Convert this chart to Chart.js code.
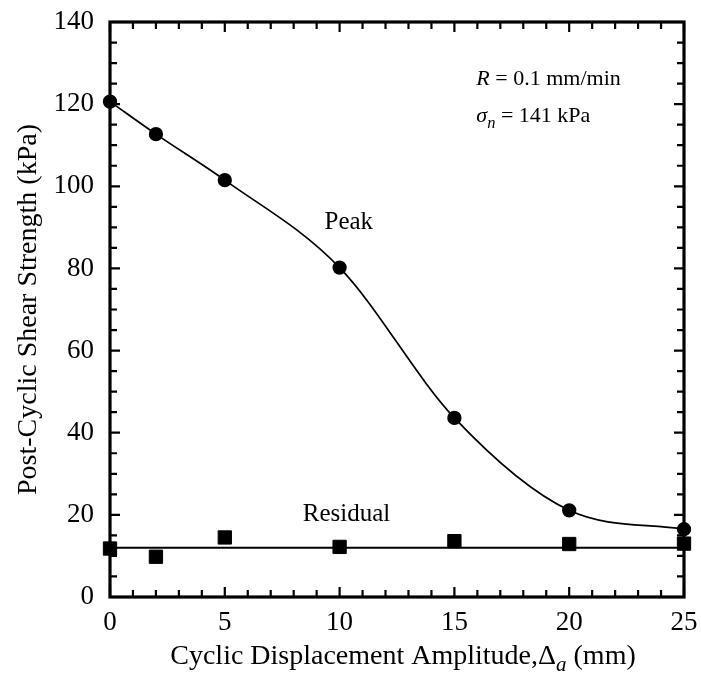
<!DOCTYPE html>
<html>
<head>
<meta charset="utf-8">
<script src="https://cdn.jsdelivr.net/npm/chart.js@4.4.0/dist/chart.umd.min.js"></script>
<style>
  html, body { margin: 0; padding: 0; background: #fff; }
  #wrap { width: 701px; height: 673px; }
</style>
</head>
<body>
<div id="wrap"><canvas id="chart"></canvas></div>
<script>
// Data
const amplitudes = [0, 2, 5, 10, 15, 20, 25];
const peakStrength = [120.6, 112.7, 101.5, 80.2, 43.6, 21.1, 16.5];
const residualStrength = [11.8, 9.8, 14.5, 12.2, 13.6, 12.9, 13.0];
const residualFitX = [0, 25];
const residualFitY = [12.0, 12.0];
const xTicks = [0, 5, 10, 15, 20, 25];
const yTicks = [0, 20, 40, 60, 80, 100, 120, 140];

const serif = "'Liberation Serif', 'Times New Roman', serif";

function toPoints(xs, ys) {
  return xs.map((x, i) => ({x: x, y: ys[i]}));
}

// draw text made of parts (italic / subscript pieces)
function drawRich(ctx, parts, x, y, size, align) {
  let widths = parts.map(p => {
    ctx.font = (p.italic ? 'italic ' : '') + (p.sub ? size * 0.75 : size) + 'px ' + serif;
    return ctx.measureText(p.t).width;
  });
  let total = widths.reduce((a, b) => a + b, 0);
  let cx = align === 'center' ? x - total / 2 : x;
  ctx.textAlign = 'left';
  ctx.textBaseline = 'alphabetic';
  parts.forEach((p, i) => {
    ctx.font = (p.italic ? 'italic ' : '') + (p.sub ? size * 0.75 : size) + 'px ' + serif;
    ctx.fillText(p.t, cx, p.sub ? y + size * 0.25 : y);
    cx += widths[i];
  });
}

// no extra room for overflowing tick labels, layout padding decides
function noOverflow(s) {
  s.paddingTop = 0; s.paddingBottom = 0; s.paddingLeft = 0; s.paddingRight = 0;
}

// frame, inside ticks on all four sides, labels and axis titles
const framePlugin = {
  id: 'frame',
  afterDatasetsDraw(chart) {
    const ctx = chart.ctx;
    const a = chart.chartArea;
    const xs = chart.scales.x, ys = chart.scales.y;
    ctx.save();
    ctx.strokeStyle = '#000';
    ctx.fillStyle = '#000';

    ctx.lineWidth = 2.2;
    for (let v = 0; v <= 25; v += 1) {
      let px = xs.getPixelForValue(v);
      let len = v % 5 === 0 ? 10 : 7;
      ctx.beginPath();
      ctx.moveTo(px, a.bottom); ctx.lineTo(px, a.bottom - len);
      ctx.moveTo(px, a.top); ctx.lineTo(px, a.top + len);
      ctx.stroke();
    }
    for (let v = 0; v <= 140; v += 5) {
      let py = ys.getPixelForValue(v);
      let len = v % 20 === 0 ? 10 : 7;
      ctx.beginPath();
      ctx.moveTo(a.left, py); ctx.lineTo(a.left + len, py);
      ctx.moveTo(a.right, py); ctx.lineTo(a.right - len, py);
      ctx.stroke();
    }

    ctx.lineWidth = 3.2;
    ctx.strokeRect(a.left, a.top, a.right - a.left, a.bottom - a.top);

    // curve labels
    ctx.font = '25px ' + serif;
    ctx.textAlign = 'center';
    ctx.textBaseline = 'alphabetic';
    ctx.fillText('Peak', xs.getPixelForValue(10.4), 229);
    ctx.fillText('Residual', xs.getPixelForValue(10.3), 521);

    // test conditions
    let tx = xs.getPixelForValue(16.0) - 1;
    drawRich(ctx, [{t: 'R', italic: true}, {t: ' = 0.1 mm/min'}], tx, 85, 22, 'left');
    drawRich(ctx, [{t: 'σ', italic: true}, {t: 'n', italic: true, sub: true}, {t: ' = 141 kPa'}], tx, 122, 22, 'left');

    // axis titles
    drawRich(ctx, [{t: 'Cyclic Displacement Amplitude,Δ'}, {t: 'a', italic: true, sub: true}, {t: ' (mm)'}],
      (a.left + a.right) / 2 + 6, 664, 28, 'center');
    ctx.translate(29, (a.top + a.bottom) / 2);
    ctx.rotate(-Math.PI / 2);
    ctx.font = '28px ' + serif;
    ctx.textAlign = 'center';
    ctx.textBaseline = 'middle';
    ctx.fillText('Post-Cyclic Shear Strength (kPa)', 0, 0);
    ctx.restore();
  }
};

const ctxEl = document.getElementById('chart');
new Chart(ctxEl, {
  type: 'scatter',
  data: {
    datasets: [
      {
        label: 'Peak',
        data: toPoints(amplitudes, peakStrength),
        showLine: true,
        cubicInterpolationMode: 'monotone',
        borderColor: '#000',
        borderWidth: 1.7,
        pointStyle: 'circle',
        pointRadius: 6.3,
        pointBackgroundColor: '#000',
        pointBorderColor: '#000',
        clip: false
      },
      {
        label: 'Residual fit',
        data: toPoints(residualFitX, residualFitY),
        showLine: true,
        borderColor: '#000',
        borderWidth: 2,
        pointRadius: 0,
        clip: false
      },
      {
        label: 'Residual',
        data: toPoints(amplitudes, residualStrength),
        showLine: false,
        pointStyle: 'rect',
        pointRadius: 9.4,
        pointBackgroundColor: '#000',
        pointBorderColor: '#000',
        clip: false
      }
    ]
  },
  options: {
    responsive: true,
    maintainAspectRatio: false,
    animation: false,
    layout: {padding: {top: 22, right: 17, left: 0, bottom: 0}},
    plugins: {legend: {display: false}, tooltip: {enabled: false}},
    scales: {
      x: {
        type: 'linear',
        min: 0,
        max: 25,
        afterBuildTicks: s => { s.ticks = xTicks.map(v => ({value: v})); },
        afterFit: s => { s.height = 76; noOverflow(s); },
        grid: {display: false, drawTicks: false},
        border: {display: false},
        ticks: {color: '#000', padding: 10, font: {family: serif, size: 27}}
      },
      y: {
        type: 'linear',
        min: 0,
        max: 140,
        afterBuildTicks: s => { s.ticks = yTicks.map(v => ({value: v})); },
        afterFit: s => { s.width = 110; noOverflow(s); },
        grid: {display: false, drawTicks: false},
        border: {display: false},
        ticks: {color: '#000', padding: 16, font: {family: serif, size: 27}}
      }
    }
  },
  plugins: [framePlugin]
});
</script>
</body>
</html>
